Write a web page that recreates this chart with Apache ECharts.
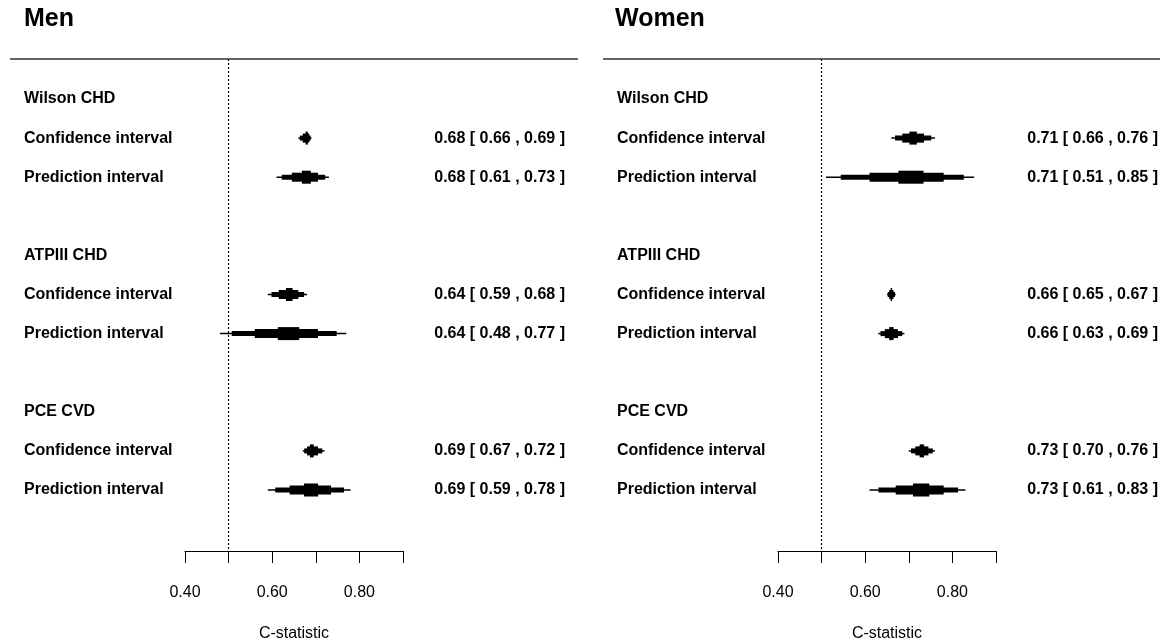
<!DOCTYPE html>
<html>
<head>
<meta charset="utf-8">
<script src="https://cdn.jsdelivr.net/npm/echarts@6/dist/echarts.min.js"></script>
<style>
html,body{margin:0;padding:0;background:#fff;}
#chart{width:1167px;height:640px;}
</style>
</head>
<body>
<div id="chart"></div>
<script>
// ---- data ----
const panelTitles = ['Men', 'Women'];
const groups = ['Wilson CHD', 'ATPIII CHD', 'PCE CVD'];
const intervalTypes = ['Confidence interval', 'Prediction interval'];

const menEstimate = [0.68, 0.64, 0.69];
const menCiLower  = [0.66, 0.59, 0.67];
const menCiUpper  = [0.69, 0.68, 0.72];
const menPiLower  = [0.61, 0.48, 0.59];
const menPiUpper  = [0.73, 0.77, 0.78];

const womenEstimate = [0.71, 0.66, 0.73];
const womenCiLower  = [0.66, 0.65, 0.70];
const womenCiUpper  = [0.76, 0.67, 0.76];
const womenPiLower  = [0.51, 0.63, 0.61];
const womenPiUpper  = [0.85, 0.69, 0.83];

const axisMin = 0.4, axisMax = 0.9, axisStep = 0.1;
const tickLabels = ['0.40', '0.60', '0.80'];
const axisTitle = 'C-statistic';
const referenceValue = 0.5;

// ---- build rows ----
function buildRows(est, ciLo, ciHi, piLo, piHi) {
  const rows = [];
  groups.forEach((g, i) => {
    const base = i * 4;
    rows.push({ row: base, kind: 'header', text: g });
    rows.push({ row: base + 1, kind: 'interval', text: intervalTypes[0], est: est[i], lo: ciLo[i], hi: ciHi[i] });
    rows.push({ row: base + 2, kind: 'interval', text: intervalTypes[1], est: est[i], lo: piLo[i], hi: piHi[i] });
  });
  return rows;
}
const panels = [
  buildRows(menEstimate, menCiLower, menCiUpper, menPiLower, menPiUpper),
  buildRows(womenEstimate, womenCiLower, womenCiUpper, womenPiLower, womenPiUpper)
];

const FONT = '"Liberation Sans", Arial, sans-serif';
const levelFrac = [1, 0.83, 0.5, 0.17];
const levelH = [1.5, 5, 9, 13];

function makeRender(rows) {
  return function (params, api) {
    const r = rows[params.dataIndex];
    const cs = params.coordSys;
    const y = api.coord([axisMin, r.row])[1];
    const children = [];
    children.push({
      type: 'text',
      style: { x: cs.x - 161, y: y, text: r.text, fill: '#000', font: 'bold 16px ' + FONT, verticalAlign: 'middle', align: 'left' }
    });
    if (r.kind === 'interval') {
      for (let k = 0; k < levelFrac.length; k++) {
        const f = levelFrac[k];
        const x0 = api.coord([r.est - f * (r.est - r.lo), r.row])[0];
        const x1 = api.coord([r.est + f * (r.hi - r.est), r.row])[0];
        const h = levelH[k];
        children.push({ type: 'rect', shape: { x: x0, y: y - h / 2, width: x1 - x0, height: h }, style: { fill: '#000' } });
      }
      const label = r.est.toFixed(2) + ' [ ' + r.lo.toFixed(2) + ' , ' + r.hi.toFixed(2) + ' ]';
      children.push({
        type: 'text',
        style: { x: cs.x + 380, y: y, text: label, fill: '#000', font: 'bold 16px ' + FONT, verticalAlign: 'middle', align: 'right' }
      });
    }
    return { type: 'group', children: children };
  };
}

const gridLefts = [185, 778];
const option = {
  animation: false,
  backgroundColor: '#fff',
  title: panelTitles.map((t, i) => ({
    text: t, left: [24, 615][i], top: 7, padding: 0,
    textStyle: { fontFamily: FONT, fontWeight: 'bold', fontSize: 25, color: '#000' }
  })),
  graphic: [
    { type: 'line', shape: { x1: 10, y1: 59, x2: 578, y2: 59 }, style: { stroke: '#333', lineWidth: 1.3 } },
    { type: 'line', shape: { x1: 603, y1: 59, x2: 1160, y2: 59 }, style: { stroke: '#333', lineWidth: 1.3 } }
  ],
  grid: gridLefts.map(l => ({ left: l, width: 218, top: 59, height: 492, outerBoundsMode: 'none', containLabel: false })),
  xAxis: gridLefts.map((l, i) => ({
    type: 'value', gridIndex: i, min: axisMin, max: axisMax, interval: axisStep,
    position: 'bottom',
    name: axisTitle, nameLocation: 'middle', nameGap: 75,
    nameTextStyle: { fontFamily: FONT, fontSize: 16, color: '#000' },
    splitLine: { show: false },
    axisLine: { show: true, onZero: false, lineStyle: { color: '#000', width: 1 } },
    axisTick: { show: true, length: 12, inside: false, lineStyle: { color: '#000', width: 1 } },
    axisLabel: {
      margin: 34, fontFamily: FONT, fontSize: 16, color: '#000',
      formatter: function (v) { const s = v.toFixed(2); return tickLabels.indexOf(s) >= 0 ? s : ''; }
    }
  })),
  yAxis: gridLefts.map((l, i) => ({
    type: 'value', gridIndex: i, min: -1.023, max: 11.56, inverse: true, show: false
  })),
  series: panels.map((rows, i) => ({
    type: 'custom', xAxisIndex: i, yAxisIndex: i, clip: false,
    renderItem: makeRender(rows),
    data: rows.map(r => [r.kind === 'interval' ? r.est : axisMin, r.row]),
    markLine: {
      silent: true, symbol: 'none', label: { show: false },
      lineStyle: { type: [2, 2], color: '#000', width: 1.2 },
      data: [{ xAxis: referenceValue }]
    }
  }))
};

const chart = echarts.init(document.getElementById('chart'), null, { renderer: 'canvas' });
chart.setOption(option);
</script>
</body>
</html>
